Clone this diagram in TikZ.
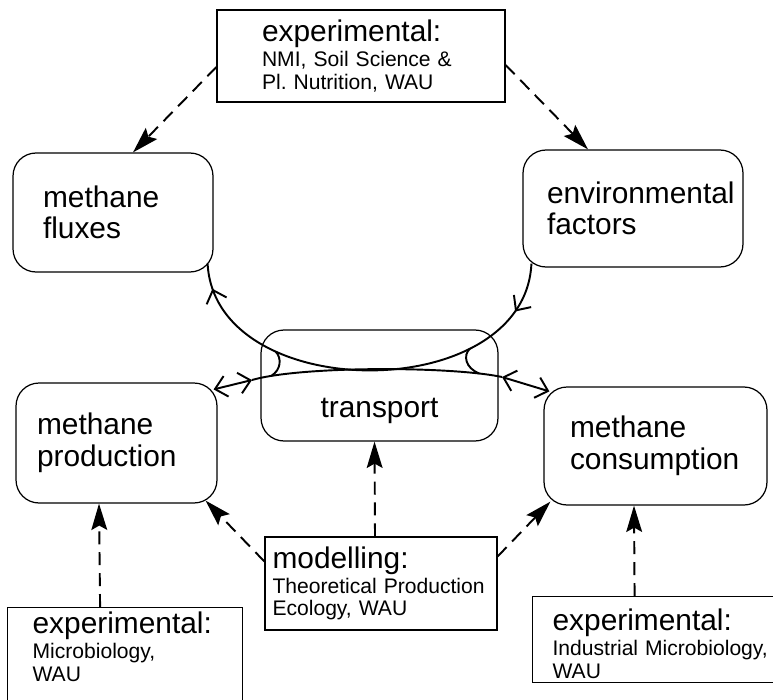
\documentclass[tikz,border=0pt]{standalone}
\usepackage{fontspec}
\setmainfont{Liberation Sans}
\usetikzlibrary{arrows.meta,decorations.markings}
\hyphenpenalty=10000
\newcommand{\bigtxt}{\fontsize{17}{18}\selectfont}
\newcommand{\smtxt}{\fontsize{12}{13}\selectfont}

\begin{document}
\begin{tikzpicture}[
    x=0.02cm, y=-0.02cm,
    >={Straight Barb[length=6.5pt,width=12pt]},
    rbox/.style={draw, line width=0.7pt, rounded corners=0.46cm, align=left, font=\bigtxt},
    sbox/.style={draw, line width=0.7pt, align=left, font=\smtxt},
    dasharrow/.style={-{Stealth[length=15pt,width=9pt,inset=2.5pt]}, line width=1.1pt, dash pattern=on 7.4pt off 4.5pt},
    flow/.style={line width=1.1pt},
    flowarc/.style={flow, postaction={decorate}, decoration={markings,
        mark=at position 0.06 with {\arrowreversed{>}},
        mark=at position 0.88 with {\arrowreversed{>}}}},
  ]
    \useasboundingbox[fill=white] (0,0) rectangle (773,699);

    \node[sbox, minimum width=5.76cm, minimum height=1.84cm, text width=3.96cm, inner sep=0pt] (expnmi) at (361,56)
      {{\bigtxt experimental:}\\[1pt] NMI, Soil Science \&\\ Pl.\ Nutrition, WAU};
    \node[rbox, minimum width=4cm, minimum height=2.38cm, text width=2.8cm] (fluxes) at (113,212.5) {methane\\fluxes};
    \node[rbox, minimum width=4.4cm, minimum height=2.34cm, text width=3.44cm] (envfac) at (633,208.5) {environmental\\factors};
    \node[rbox, minimum width=4.74cm, minimum height=2.22cm, align=center, text height=1.3cm, text depth=0pt] (transp) at (379.5,385.5) {transport};
    \node[rbox, minimum width=4.02cm, minimum height=2.4cm, text width=3.18cm] (prod) at (116.5,443) {methane\\production};
    \node[rbox, minimum width=4.46cm, minimum height=2.36cm, text width=3.42cm] (cons) at (655.5,446) {methane\\consumption};
    \node[sbox, minimum width=4.64cm, minimum height=1.86cm, text width=4.34cm, inner xsep=0.1cm] (model) at (381,583.5)
      {{\bigtxt modelling:}\\[1pt] Theoretical Production\\ Ecology, WAU};
    \node[sbox, anchor=north west, inner xsep=0.5cm, inner ysep=0pt, text width=3.7cm, text height=0.52cm, text depth=2.14cm] (expmic) at (7,607)
      {{\bigtxt experimental:}\\[1pt] Microbiology,\\ WAU};
    \node[sbox, anchor=north west, inner xsep=0.4cm, inner ysep=0pt, text width=4.4cm, text height=0.68cm, text depth=1.04cm] (expind) at (532,596)
      {{\bigtxt experimental:}\\[1pt] Industrial Microbiology,\\ WAU};

    \draw[dasharrow] ([shift={(0,11)}]expnmi.west) -- ([shift={(20,0)}]fluxes.north);
    \draw[dasharrow] ([shift={(0,9)}]expnmi.east) -- ([shift={(-45,0)}]envfac.north);
    \draw[dasharrow] ([shift={(0,-22)}]model.west) -- ([shift={(-12,-3)}]prod.south east);
    \draw[dasharrow] ([shift={(-6,0)}]model.north) -- ([shift={(-5,0)}]transp.south);
    \draw[dasharrow] ([shift={(0,-27)}]model.east) -- ([shift={(7,-4)}]cons.south west);
    \draw[dasharrow] ([shift={(-25,0)}]expmic.north) -- ([shift={(-17.5,0)}]prod.south);
    \draw[dasharrow] ([shift={(-28,0)}]expind.north) -- ([shift={(-21.5,0)}]cons.south);

    \draw[flowarc] ([shift={(-6,-9)}]fluxes.south east) .. controls (215,406) and (525,406) .. ([shift={(9,-4)}]envfac.south west)
      coordinate[pos=0.29] (arcl) coordinate[pos=0.725] (arcr);
    \coordinate (tl) at (252,380);
    \coordinate (tr) at (502,377);
    \draw[flow, <->] ([shift={(-4,7)}]prod.north east) -- (tl);
    \draw[flow, <->] (tr) -- ([shift={(6,5)}]cons.north west);
    \draw[flow] (tl) .. controls (300,366) and (450,366) .. (tr)
      coordinate[pos=0.11] (midl) coordinate[pos=0.88] (midr);
    \draw[flow] (arcl) .. controls (282,358) and (281,370) .. (midl);
    \draw[flow] (arcr) .. controls (463,355) and (465,368) .. (midr);
  \end{tikzpicture}
\end{document}
